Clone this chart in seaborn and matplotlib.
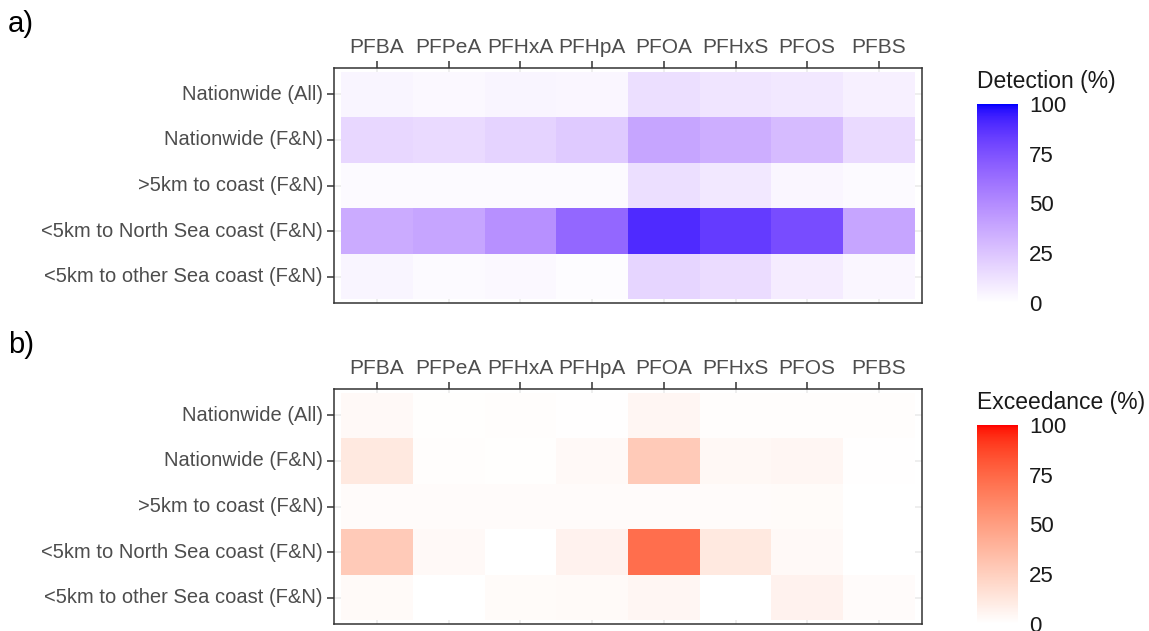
import numpy as np
import pandas as pd
import seaborn as sns
import matplotlib.pyplot as plt
from matplotlib.colors import ListedColormap, to_rgb

compounds = ['PFBA', 'PFPeA', 'PFHxA', 'PFHpA', 'PFOA', 'PFHxS', 'PFOS', 'PFBS']
regions = ['Nationwide (All)', 'Nationwide (F&N)', '>5km to coast (F&N)',
           '<5km to North Sea coast (F&N)', '<5km to other Sea coast (F&N)']

# detection frequency (%) per region, compounds in order above
det_all = [4.5, 3.5, 4.5, 4, 14, 11, 10, 6.5]
det_fn = [17, 16, 19, 23, 39, 35, 29, 16]
det_far = [2, 2, 2, 2, 14, 10, 4, 2]
det_north = [36, 39, 48, 66, 90, 84, 77, 39]
det_other = [4.5, 2, 3.5, 1.5, 18, 15, 8, 4]

# exceedance (%) per region
exc_all = [3.5, 1, 1.5, 0.5, 5, 1.5, 1.5, 1.5]
exc_fn = [12, 1.5, 1, 3.5, 28, 4, 5, 0.5]
exc_far = [2, 2, 2, 2, 2, 2, 2.5, 0]
exc_north = [28, 3.5, 0, 7, 72, 12, 3.5, 0]
exc_other = [3, 0, 2.5, 3, 5, 0, 7, 2]


def srgb_to_lab(c):
    c = np.asarray(c, dtype=float)
    lin = np.where(c <= 0.04045, c / 12.92, ((c + 0.055) / 1.055) ** 2.4)
    m = np.array([[0.4124, 0.3576, 0.1805],
                  [0.2126, 0.7152, 0.0722],
                  [0.0193, 0.1192, 0.9505]])
    xyz = m @ lin / np.array([0.95047, 1.0, 1.08883])
    f = np.where(xyz > 216 / 24389, np.cbrt(xyz), (24389 / 27 * xyz + 16) / 116)
    return np.array([116 * f[1] - 16, 500 * (f[0] - f[1]), 200 * (f[1] - f[2])])


def lab_to_srgb(lab):
    L, a, b = lab
    fy = (L + 16) / 116
    fx = fy + a / 500
    fz = fy - b / 200
    f = np.array([fx, fy, fz])
    xyz = np.where(f ** 3 > 216 / 24389, f ** 3, (116 * f - 16) / (24389 / 27))
    xyz = xyz * np.array([0.95047, 1.0, 1.08883])
    minv = np.array([[3.2406, -1.5372, -0.4986],
                     [-0.9689, 1.8758, 0.0415],
                     [0.0557, -0.2040, 1.0570]])
    lin = minv @ xyz
    c = np.where(lin <= 0.0031308, 12.92 * lin, 1.055 * np.clip(lin, 0, None) ** (1 / 2.4) - 0.055)
    return np.clip(c, 0, 1)


def lab_gradient(high):
    lo = srgb_to_lab(to_rgb('white'))
    hi = srgb_to_lab(to_rgb(high))
    cols = [lab_to_srgb(lo + t * (hi - lo)) for t in np.linspace(0, 1, 256)]
    return ListedColormap(cols)


det = pd.DataFrame([det_all, det_fn, det_far, det_north, det_other],
                   index=regions, columns=compounds)
exc = pd.DataFrame([exc_all, exc_fn, exc_far, exc_north, exc_other],
                   index=regions, columns=compounds)

sns.set_style('white')
plt.rcParams['font.family'] = ['Liberation Sans', 'DejaVu Sans']

fig = plt.figure(figsize=(11.49, 6.31), dpi=100)
panels = [
    (det, lab_gradient('blue'), 'Detection (%)', 'a)', 0.5198),
    (exc, lab_gradient('red'), 'Exceedance (%)', 'b)', 0.0111),
]

for data, cmap, title, tag, bottom in panels:
    ax = fig.add_axes([0.2907, bottom, 0.5117, 0.3724])
    cax = fig.add_axes([0.8503, bottom, 0.0357, 0.3154])
    sns.heatmap(data, ax=ax, cbar_ax=cax, cmap=cmap, vmin=0, vmax=100,
                linewidths=0)
    ax.set_xlim(-0.1, 8.1)
    ax.set_ylim(5.077, -0.077)
    ax.set_axisbelow(True)
    ax.grid(True, color='#EBEBEB', linewidth=1.2)
    ax.xaxis.tick_top()
    ax.tick_params(axis='both', length=5, width=1.1, color='#333333',
                   labelcolor='#4D4D4D', labelsize=14.5, pad=3,
                   left=True, top=True)
    ax.tick_params(axis='x', labelsize=15)
    ax.tick_params(axis='y', rotation=0)
    ax.tick_params(axis='x', rotation=0)
    ax.set_xlabel('')
    ax.set_ylabel('')
    for s in ax.spines.values():
        s.set_visible(True)
        s.set_color('#333333')
        s.set_linewidth(1.1)

    cbar = ax.collections[0].colorbar
    cbar.set_ticks([0, 25, 50, 75, 100])
    cbar.outline.set_visible(False)
    cax.tick_params(length=6, width=0.8, color='white', direction='in',
                    labelsize=16, labelcolor='#1A1A1A', pad=8)
    fig.text(0.8503, bottom + 0.3154 + 0.018, title, fontsize=16.5,
             ha='left', va='bottom', color='#1A1A1A')
    fig.text(0.007, bottom + 0.3724 + 0.07, tag, fontsize=21,
             ha='left', va='center', color='black')

fig.savefig('out.png', dpi=100)
plt.close(fig)
